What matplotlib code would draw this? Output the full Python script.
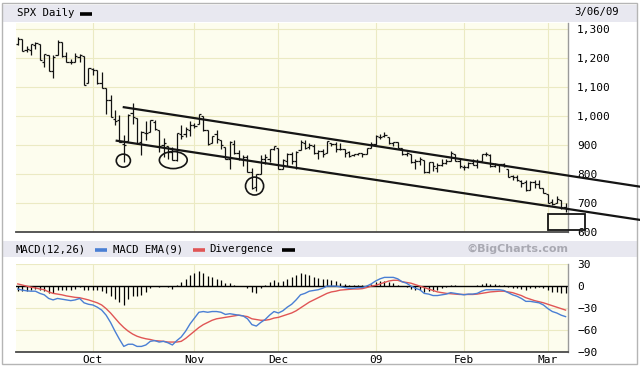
import numpy as np
import matplotlib
matplotlib.use("Agg")
import matplotlib.pyplot as plt
from matplotlib.patches import Ellipse, Rectangle

# ---------------- data ----------------
month_days = {
    "2008-09": [8, 9, 10, 11, 12, 15, 16, 17, 18, 19, 22, 23, 24, 25, 26, 29, 30],
    "2008-10": [1, 2, 3, 6, 7, 8, 9, 10, 13, 14, 15, 16, 17, 20, 21, 22, 23, 24, 27, 28, 29, 30, 31],
    "2008-11": [3, 4, 5, 6, 7, 10, 11, 12, 13, 14, 17, 18, 19, 20, 21, 24, 25, 26, 28],
    "2008-12": [1, 2, 3, 4, 5, 8, 9, 10, 11, 12, 15, 16, 17, 18, 19, 22, 23, 24, 26, 29, 30, 31],
    "2009-01": [2, 5, 6, 7, 8, 9, 12, 13, 14, 15, 16, 20, 21, 22, 23, 26, 27, 28, 29, 30],
    "2009-02": [2, 3, 4, 5, 6, 9, 10, 11, 12, 13, 17, 18, 19, 20, 23, 24, 25, 26, 27],
    "2009-03": [2, 3, 4, 5, 6],
}
dates = [f"{m}-{d:02d}" for m, ds in month_days.items() for d in ds]
month_labels = ["Oct", "Nov", "Dec", "09", "Feb", "Mar"]

opens = [1249.5, 1267.98, 1227.5, 1229.0, 1245.9, 1250.9, 1188.3, 1210.3, 1157.1, 1213.1, 1255.4, 1207.6, 1188.8, 1187.9, 1204.5, 1209.1, 1113.8,
         1164.2, 1160.6, 1115.2, 1097.6, 1057.6, 988.9, 988.4, 902.3, 912.8, 1010.0, 994.6, 909.5, 942.3, 943.5, 980.4, 951.7, 899.1, 895.2, 874.3, 848.9, 939.5, 939.4, 953.1,
         968.7, 971.3, 1001.8, 952.4, 907.4, 936.8, 917.2, 893.4, 853.1, 904.4, 873.2, 852.3, 859.0, 805.9, 755.8, 801.2, 853.4, 852.9, 886.9,
         888.6, 817.9, 843.6, 869.8, 844.4, 882.7, 906.5, 892.2, 898.4, 871.8, 881.1, 871.5, 908.2, 904.4, 887.0, 887.2, 874.3, 863.9, 869.5, 872.4, 870.6, 890.6,
         903.0, 929.2, 931.2, 927.5, 905.7, 909.9, 890.4, 869.8, 867.3, 842.0, 844.5, 849.6, 806.8, 839.7, 822.2, 832.5, 837.3, 845.7, 868.9, 845.7,
         823.1, 825.7, 837.8, 831.8, 846.1, 868.2, 866.9, 827.4, 829.9, 834.0, 818.6, 791.1, 787.9, 775.9, 773.3, 744.7, 770.6, 765.8, 749.9,
         729.6, 704.4, 698.6, 708.3, 684.0]
highs = [1274.4, 1268.7, 1243.9, 1250.0, 1255.1, 1250.9, 1214.8, 1210.3, 1211.6, 1265.1, 1255.4, 1221.2, 1197.4, 1220.0, 1215.8, 1209.1, 1168.0,
         1167.0, 1160.6, 1153.8, 1097.6, 1072.9, 1021.1, 1005.3, 936.4, 1006.9, 1044.3, 994.6, 947.7, 984.6, 985.4, 985.4, 951.7, 922.8, 896.3, 893.8, 940.5, 970.0, 963.2, 984.4,
         975.6, 1007.5, 1001.8, 952.4, 931.5, 952.0, 917.2, 893.4, 913.0, 916.9, 882.3, 865.9, 864.6, 820.5, 801.2, 865.6, 868.9, 887.7, 896.3,
         888.6, 850.5, 873.1, 875.6, 879.4, 918.6, 916.3, 908.3, 904.6, 883.2, 884.6, 914.7, 908.3, 911.0, 905.5, 887.4, 880.4, 869.8, 873.7, 873.7, 891.1, 910.3,
         934.7, 936.6, 943.9, 927.5, 910.0, 911.9, 890.4, 877.0, 867.3, 851.6, 858.1, 849.6, 841.7, 839.7, 838.6, 852.5, 850.5, 877.9, 868.9, 851.7,
         830.8, 842.6, 851.9, 850.6, 870.7, 875.0, 868.1, 838.2, 835.5, 839.4, 818.6, 796.2, 797.6, 778.7, 777.9, 775.5, 780.1, 779.4, 751.3,
         729.6, 711.7, 724.1, 708.3, 699.1]
lows = [1247.1, 1224.5, 1221.6, 1211.5, 1233.8, 1192.7, 1169.3, 1155.9, 1133.5, 1213.1, 1205.6, 1187.1, 1179.8, 1187.9, 1187.5, 1106.4, 1113.8,
        1140.8, 1111.4, 1098.1, 1008.0, 996.2, 971.0, 909.2, 839.8, 912.8, 972.1, 904.0, 865.8, 918.7, 943.5, 952.5, 875.8, 858.4, 852.9, 846.8, 845.3, 922.3, 928.5, 930.0,
        958.8, 971.3, 949.9, 899.7, 906.9, 907.5, 884.9, 850.5, 818.7, 869.9, 849.0, 826.8, 806.2, 747.8, 741.0, 801.2, 835.0, 841.4, 881.2,
        815.7, 817.9, 827.6, 833.6, 818.4, 882.7, 885.4, 885.4, 868.7, 851.4, 857.7, 871.5, 895.9, 877.4, 883.0, 857.1, 860.1, 861.4, 866.5, 857.1, 870.6, 889.7,
        899.4, 919.5, 927.3, 902.4, 896.8, 888.3, 864.3, 862.0, 836.9, 817.0, 830.7, 804.5, 804.3, 811.3, 806.1, 827.7, 835.4, 845.7, 844.2, 821.7,
        812.9, 822.0, 829.2, 819.9, 845.4, 861.7, 823.0, 822.3, 808.1, 825.2, 789.2, 780.4, 777.0, 754.3, 742.4, 744.7, 752.9, 751.8, 734.5,
        699.7, 692.3, 698.6, 677.9, 666.8]
closes = [1267.8, 1224.5, 1232.0, 1249.1, 1251.7, 1192.7, 1213.6, 1156.4, 1206.5, 1255.1, 1207.1, 1188.2, 1185.9, 1209.2, 1213.3, 1106.4, 1166.4,
          1161.1, 1114.3, 1099.2, 1056.9, 996.2, 984.9, 909.9, 899.2, 1003.4, 998.0, 907.8, 946.4, 940.6, 985.4, 955.1, 896.8, 908.1, 876.8, 848.9, 940.5, 930.1, 954.1, 968.8,
          966.3, 1005.8, 952.8, 904.9, 931.0, 919.2, 899.0, 852.3, 911.3, 873.3, 850.8, 859.1, 806.6, 752.4, 800.0, 851.8, 857.4, 887.7, 896.2,
          816.2, 848.8, 870.7, 845.2, 876.1, 909.7, 888.7, 899.2, 873.6, 879.7, 868.6, 913.2, 904.4, 885.3, 887.9, 871.6, 863.2, 868.2, 872.8, 869.4, 890.6, 903.3,
          931.8, 927.5, 934.7, 906.7, 909.7, 890.4, 870.3, 871.8, 842.6, 843.7, 850.1, 805.2, 840.2, 827.5, 832.0, 836.6, 845.7, 874.1, 845.1, 825.9,
          825.4, 838.5, 832.2, 845.9, 868.6, 869.9, 827.2, 833.7, 835.2, 826.8, 789.2, 788.4, 778.9, 770.1, 743.3, 773.1, 764.9, 752.8, 735.1,
          700.8, 696.3, 712.9, 682.6, 683.4]

macd = [-4, -5.5, -6.5, -7, -7, -10, -12, -17, -19, -17, -18, -19, -20, -19, -17, -23, -25,
        -26, -29, -33, -40, -50, -62, -73, -83, -80, -80, -83, -83, -81, -76, -75, -77, -76, -78, -81, -75, -70, -62, -52,
        -44, -36, -35, -36, -35, -35, -36, -39, -38, -39, -40, -41, -45, -53, -55, -50, -46, -40, -35,
        -37, -34, -29, -25, -19, -12, -10, -7, -6, -5, -3, 0, 0, 0, -1, -2, -3, -3, -2, -2, 0, 3,
        7, 10, 12, 12, 12, 10, 6, 4, 0, -3, -5, -10, -11, -13, -13, -12, -11, -9, -10, -11,
        -12, -11, -11, -10, -7, -5, -5, -5, -5, -6, -9, -12, -14, -17, -21, -21, -22, -23, -26,
        -31, -35, -37, -40, -42]
signal = [3, 1.5, 0, -1.5, -2.5, -4, -5, -8, -10, -11, -12, -13.5, -14.5, -15.5, -16, -17.5, -19,
          -21, -23, -26, -31, -37, -44, -51, -57, -62, -66, -69, -71, -72.5, -73.5, -75, -75.5, -76, -77, -77, -77, -76, -72, -67,
          -62, -57, -53, -50, -47, -45, -44, -43, -42, -41, -40, -41, -42, -45, -46, -47, -47, -46, -44,
          -43, -41, -39, -37, -34, -30, -26, -22, -19, -16, -13, -10, -8, -7, -5.5, -5, -4.5, -4, -4, -3.5, -2, 0,
          1, 3, 5, 7, 8, 8, 6, 5, 4, 2, 0, -2, -4, -6, -8, -9, -10, -10.5, -11, -11.5,
          -11.5, -11.5, -11.5, -11, -10, -9, -8, -7.5, -7, -7, -8, -9, -11, -13, -16, -18, -20, -21.5, -23,
          -25, -27, -29, -31, -33]
divergence = [-7, -7, -6.5, -5.5, -4.5, -6, -7, -9, -9, -6, -6, -5.5, -5.5, -3.5, -1, -5.5, -6,
              -5, -6, -7, -9, -13, -18, -22, -26, -18, -14, -14, -12, -8.5, -2.5, 0, -1.5, 0, -1, -4, 2, 6, 10, 15,
              18, 21, 18, 14, 12, 10, 8, 4, 4, 2, 0, 0, -3, -8, -9, -3, 1, 6, 9,
              6, 7, 10, 12, 15, 18, 16, 15, 13, 11, 10, 10, 8, 7, 4.5, 3, 1.5, 1, 2, 1.5, 2, 3,
              6, 7, 7, 5, 4, 2, 0, -1, -4, -5, -5, -8, -7, -7, -5, -3, -1, 1.5, 1, 0.5,
              -0.5, 0.5, 0.5, 1, 3, 4, 3, 2.5, 2, 1, -1, -3, -3, -4, -5, -3, -2, -1.5, -3,
              -6, -8, -8, -9, -9]

# hand-drawn annotations (data coordinates: bar index, price)
trend_upper = [(24.0, 1031), (140.8, 756)]
trend_lower = [(22.4, 915), (140.8, 641)]
circles = [((23.9, 846), 3.2, 45), ((35.2, 848), 6.3, 59), ((53.6, 758), 4.1, 62)]
box = ((120.1, 606), 8.3, 55)

# ---------------- figure ----------------
W, H = 640, 370
fig = plt.figure(figsize=(6.4, 3.7), dpi=100)
fig.patch.set_facecolor("white")
MONO = "DejaVu Sans Mono"
CREAM = "#fdfdee"
GRID = "#ebeac3"
BAND = "#e8e8f0"

def fx(px):
    return px / W

def fy(py):
    return 1 - py / H

ov = fig.add_axes([0, 0, 1, 1], zorder=0)
ov.set_xlim(0, W)
ov.set_ylim(H, 0)
ov.axis("off")
ov.add_patch(Rectangle((3, 5), 634, 17, fc=BAND, ec="none"))
ov.add_patch(Rectangle((3, 241), 634, 16, fc=BAND, ec="none"))
ov.add_patch(Rectangle((2, 3), 635, 361, fill=False, ec="#b5b5b5", lw=1))
ov.text(17, 13.5, "SPX Daily", fontfamily=MONO, fontsize=7.7, va="center", ha="left")
ov.plot([80, 92], [14, 14], color="black", lw=2.6, solid_capstyle="butt")
ov.text(574, 12.5, "3/06/09", fontfamily=MONO, fontsize=7.7, va="center", ha="left")
ov.text(16, 249.5, "MACD(12,26)", fontfamily=MONO, fontsize=7.7, va="center", ha="left")
ov.plot([95, 107], [249.5, 249.5], color="#4a7fd4", lw=2.6, solid_capstyle="butt")
ov.text(113, 249.5, "MACD EMA(9)", fontfamily=MONO, fontsize=7.7, va="center", ha="left")
ov.plot([193, 205], [249.5, 249.5], color="#e05555", lw=2.6, solid_capstyle="butt")
ov.text(209, 249.5, "Divergence", fontfamily=MONO, fontsize=7.7, va="center", ha="left")
ov.plot([282, 295], [249.5, 249.5], color="black", lw=2.6, solid_capstyle="butt")
ov.text(568, 249, "\u00a9BigCharts.com", fontfamily="DejaVu Sans", fontweight="bold",
        fontsize=8, color="#a9a9b2", va="center", ha="right")

x = np.arange(len(dates))
months = [d[:7] for d in dates]
month_start = [i for i in range(1, len(dates)) if months[i] != months[i - 1]]

# ---------------- price panel ----------------
ax = fig.add_axes([fx(16), fy(231.7), fx(568) - fx(16), fy(23) - fy(231.7)], zorder=2)
ax.set_facecolor(CREAM)
ax.set_xlim(-0.4, 124.55)
ax.set_ylim(600, 1322.5)
pticks = list(range(600, 1301, 100))
ax.set_yticks(pticks)
ax.set_yticklabels([f"{v:,}" for v in pticks])
ax.yaxis.tick_right()
ax.set_xticks(month_start)
ax.set_xticklabels([])
ax.tick_params(axis="both", length=0)
ax.tick_params(axis="y", pad=6.5, labelsize=8)
for lab in ax.get_yticklabels():
    lab.set_fontfamily(MONO)
ax.grid(True, color=GRID, lw=0.8)
ax.set_axisbelow(True)
for s in ["left", "top"]:
    ax.spines[s].set_visible(False)
ax.spines["bottom"].set_color("#4a4a4a")
ax.spines["bottom"].set_linewidth(1.3)
ax.spines["right"].set_color("#9a9a9a")
ax.spines["right"].set_linewidth(1.0)

bar_c = "#111111"
ax.vlines(x, lows, highs, color=bar_c, lw=0.9)
ax.hlines(opens, x - 0.5, x, color=bar_c, lw=0.9)
ax.hlines(closes, x, x + 0.5, color=bar_c, lw=0.9)

for (p0, p1) in [trend_upper, trend_lower]:
    ax.plot([p0[0], p1[0]], [p0[1], p1[1]], color="#151515", lw=1.6, clip_on=False, zorder=5)
for (c, w, h) in circles:
    ax.add_patch(Ellipse(c, w, h, fill=False, ec="#151515", lw=1.2, zorder=5))
ax.add_patch(Rectangle(box[0], box[1], box[2], fill=False, ec="#151515", lw=1.3,
                       clip_on=False, zorder=5))

# ---------------- MACD panel ----------------
mx = fig.add_axes([fx(16), fy(351.5), fx(568) - fx(16), fy(264.3) - fy(351.5)], zorder=2)
mx.set_facecolor(CREAM)
mx.set_xlim(-0.4, 124.55)
mx.set_ylim(-90, 30)
mticks = [30, 0, -30, -60, -90]
mx.set_yticks(mticks)
mx.set_yticklabels([str(v).replace("-", "\u2212") for v in mticks])
mx.yaxis.tick_right()
mx.set_xticks(month_start)
mx.set_xticklabels(month_labels)
mx.tick_params(axis="both", length=0, labelsize=8)
mx.tick_params(axis="y", pad=6.5)
mx.tick_params(axis="x", pad=2.5)
for lab in mx.get_yticklabels() + mx.get_xticklabels():
    lab.set_fontfamily(MONO)
mx.grid(True, color=GRID, lw=0.8)
mx.set_axisbelow(True)
for s in ["left", "top"]:
    mx.spines[s].set_visible(False)
mx.spines["bottom"].set_color("#4a4a4a")
mx.spines["bottom"].set_linewidth(1.3)
mx.spines["right"].set_color("#9a9a9a")
mx.spines["right"].set_linewidth(1.0)

mx.axhline(0, color="black", lw=1.0, zorder=2)
mx.vlines(x, 0, divergence, color="black", lw=0.9, zorder=3)
mx.plot(x, signal, color="#e05555", lw=1.0, zorder=4)
mx.plot(x, macd, color="#4a7fd4", lw=1.0, zorder=4)

fig.savefig("out.png", dpi=100, facecolor="white")
